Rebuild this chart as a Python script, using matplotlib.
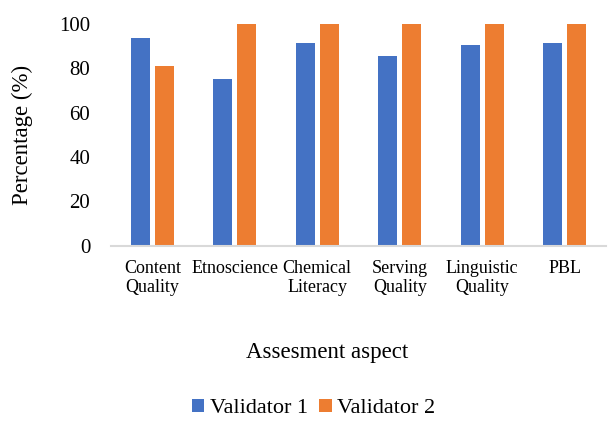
import matplotlib
matplotlib.use("Agg")
import matplotlib.pyplot as plt
import numpy as np

categories = ["Content\nQuality", "Etnoscience", "Chemical\nLiteracy", "Serving\nQuality", "Linguistic\nQuality", "PBL"]
validator1 = [93.7, 75.0, 91.6, 85.6, 90.6, 91.6]
validator2 = [81.1, 100, 100, 100, 100, 100]
yticks = [0, 20, 40, 60, 80, 100]

plt.rcParams['font.family'] = ['Liberation Serif', 'DejaVu Serif']

fig = plt.figure(figsize=(6.08, 4.21), dpi=100)
ax = fig.add_axes([0.1826, 0.416, 0.814, 0.527])

x = np.arange(len(categories))
w = 0.23
ax.bar(x - 0.145, validator1, w, color='#4472C4', label='Validator 1')
ax.bar(x + 0.145, validator2, w, color='#ED7D31', label='Validator 2')

ax.set_xlim(-0.5, len(categories) - 0.5)
ax.set_ylim(0, 100)
ax.set_yticks(yticks)
ax.set_yticklabels([str(v) for v in yticks], fontsize=15)
ax.set_xticks(x)
ax.set_xticklabels(categories, fontsize=13, linespacing=1.15, va='top')
ax.tick_params(axis='both', length=0)
ax.tick_params(axis='x', pad=10)
ax.tick_params(axis='y', pad=15)
for s in ['top', 'right', 'left']:
    ax.spines[s].set_visible(False)
ax.spines['bottom'].set_color('#d9d9d9')
ax.spines['bottom'].set_linewidth(1.5)

ax.set_ylabel("Percentage (%)", fontsize=16.5)
ax.yaxis.set_label_coords(-0.157, 0.5)
fig.text(0.538, 0.162, "Assesment aspect", ha='center', va='center', fontsize=16.5)
fig.legend(loc='center', bbox_to_anchor=(0.516, 0.03), ncol=2, frameon=False,
           fontsize=16, handlelength=0.55, handleheight=0.55, handletextpad=0.25,
           columnspacing=0.5, borderaxespad=0, borderpad=0.1)

fig.savefig("out.png", dpi=100)
